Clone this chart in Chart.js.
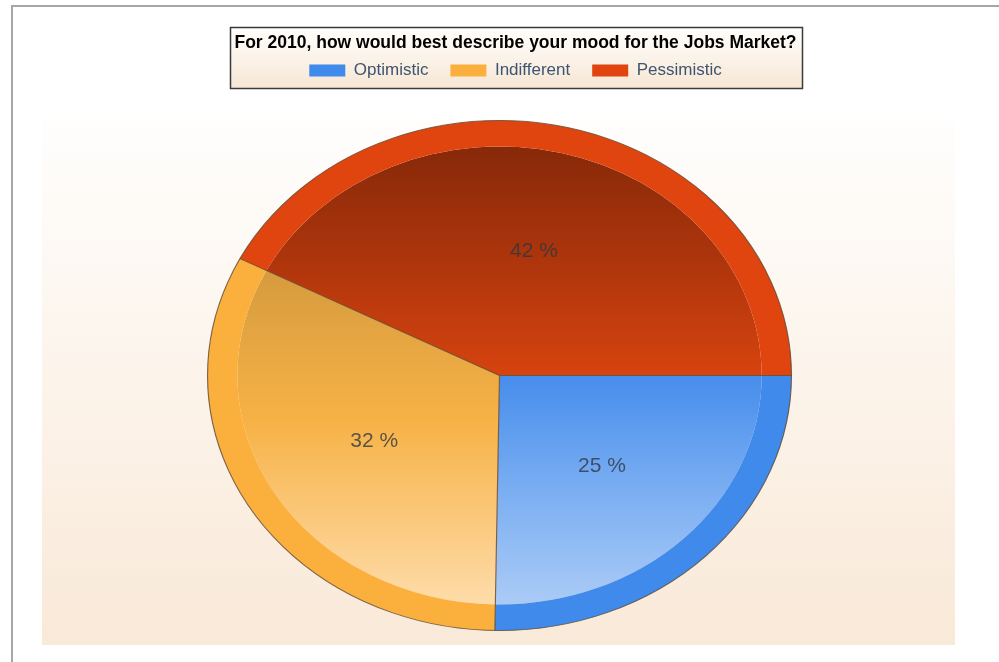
<!DOCTYPE html>
<html>
<head>
<meta charset="utf-8">
<script src="https://cdn.jsdelivr.net/npm/chart.js@4.4.1/dist/chart.umd.min.js"></script>
<style>
  html, body { margin: 0; padding: 0; background: #fff; overflow: hidden; }
  #frame { position: absolute; left: 11px; top: 5px; width: 1100px; height: 1000px;
           border-left: 2px solid #a6a6a6; border-top: 2px solid #a6a6a6; }
  #moodChart { position: absolute; left: 0; top: 0; }
</style>
</head>
<body>
<div id="frame"></div>
<canvas id="moodChart" width="999" height="662"></canvas>
<script>
// data
const chartTitle = "For 2010, how would best describe your mood for the Jobs Market?";
const moods = ["Optimistic", "Indifferent", "Pessimistic"];
const moodShares = [25, 32, 42];

// look
const rimColors = ["#3f8aea", "#fbb03e", "#e04510"];
const shadeStops = [
  [[0, "#468dec"], [0.5, "#7aaef2"], [1, "#abcbf6"]],
  [[0, "#d69b3e"], [0.45, "#f7b246"], [1, "#fedcaa"]],
  [[0, "#872909"], [0.5, "#ae350c"], [1, "#d6430f"]]
];
const FONT = '"Liberation Sans", Arial, sans-serif';
const PIE_RADIUS = 255;
const RIM_WIDTH = 26;
const STRETCH_X = 1.145; // pie is drawn as an ellipse
const SHIFT_X = -16;

// vertical extent (in radius units) of a slice, from the shares
function sliceExtent(i) {
  const total = moodShares.reduce((a, b) => a + b, 0);
  const before = moodShares.slice(0, i).reduce((a, b) => a + b, 0);
  const a0 = before / total * Math.PI * 2;
  const a1 = (before + moodShares[i]) / total * Math.PI * 2;
  const ys = [0, Math.sin(a0), Math.sin(a1)];
  if (a0 <= Math.PI / 2 && a1 >= Math.PI / 2) ys.push(1);
  if (a0 <= Math.PI * 1.5 && a1 >= Math.PI * 1.5) ys.push(-1);
  return [Math.min(...ys), Math.max(...ys)];
}

function sliceShade(context) {
  const chart = context.chart;
  const area = chart.chartArea;
  const i = context.dataIndex;
  if (!area) return rimColors[i];
  const cy = (area.top + area.bottom) / 2;
  const r = PIE_RADIUS - RIM_WIDTH;
  const [lo, hi] = sliceExtent(i);
  const g = chart.ctx.createLinearGradient(0, cy + lo * r, 0, cy + hi * r);
  shadeStops[i].forEach(s => g.addColorStop(s[0], s[1]));
  return g;
}

// background panel + title box
const backdrop = {
  id: "backdrop",
  beforeDraw(chart) {
    const ctx = chart.ctx;
    ctx.save();
    const bg = ctx.createLinearGradient(0, 120, 0, 645);
    bg.addColorStop(0, "#fffefd");
    bg.addColorStop(1, "#f9e9d8");
    ctx.fillStyle = bg;
    ctx.fillRect(42, 120, 913, 525);

    const t = chart.titleBlock;
    ctx.font = "bold 17.5px " + FONT;
    const w = ctx.measureText(chartTitle).width;
    const cx = (t.left + t.right) / 2;
    const left = Math.round(cx - w / 2 - 4) + 0.5;
    const right = Math.round(cx + w / 2 + 5) + 0.5;
    const top = Math.round(t.top) + 0.5;
    const bottom = Math.round(chart.legend.bottom) - 0.5;
    const tb = ctx.createLinearGradient(0, top, 0, bottom);
    tb.addColorStop(0, "#fffefc");
    tb.addColorStop(1, "#f7e7d5");
    ctx.fillStyle = tb;
    ctx.fillRect(left, top, right - left, bottom - top);
    ctx.strokeStyle = "#3a3a3a";
    ctx.lineWidth = 1.5;
    ctx.strokeRect(left, top, right - left, bottom - top);
    ctx.restore();
  }
};

// stretch the pie into an ellipse, then outline it and add the labels
const ellipsePie = {
  id: "ellipsePie",
  beforeDatasetsDraw(chart) {
    const c = chart.getDatasetMeta(0).data[0];
    const ctx = chart.ctx;
    ctx.save();
    ctx.translate(c.x + SHIFT_X, c.y);
    ctx.scale(STRETCH_X, 1);
    ctx.translate(-c.x, -c.y);
  },
  afterDatasetsDraw(chart) {
    const ctx = chart.ctx;
    const rim = chart.getDatasetMeta(0).data;
    const c = rim[0];
    ctx.strokeStyle = "rgba(95,70,45,0.8)";
    ctx.lineWidth = 1;
    rim.forEach(el => {
      ctx.beginPath();
      ctx.moveTo(el.x, el.y);
      ctx.lineTo(el.x + Math.cos(el.startAngle) * el.outerRadius,
                 el.y + Math.sin(el.startAngle) * el.outerRadius);
      ctx.stroke();
    });
    ctx.beginPath();
    ctx.arc(c.x, c.y, c.outerRadius, 0, Math.PI * 2);
    ctx.stroke();
    ctx.restore();

    ctx.save();
    ctx.font = "21px " + FONT;
    ctx.fillStyle = "rgba(45,55,65,0.78)";
    ctx.textAlign = "center";
    ctx.textBaseline = "middle";
    rim.forEach((el, i) => {
      const mid = (el.startAngle + el.endAngle) / 2;
      const r = el.outerRadius * 0.5;
      const x = el.x + SHIFT_X + Math.cos(mid) * r * STRETCH_X;
      const y = el.y + Math.sin(mid) * r;
      ctx.fillText(moodShares[i] + " %", x, y);
    });
    ctx.restore();
  }
};

new Chart(document.getElementById("moodChart"), {
  type: "pie",
  data: {
    labels: moods,
    datasets: [
      { data: moodShares, backgroundColor: rimColors, borderWidth: 0, weight: RIM_WIDTH },
      { data: moodShares, backgroundColor: sliceShade, borderWidth: 0, weight: PIE_RADIUS - RIM_WIDTH }
    ]
  },
  options: {
    responsive: false,
    animation: false,
    rotation: 90,
    radius: PIE_RADIUS,
    layout: { padding: { top: 27, left: 32, right: 0, bottom: -3 } },
    plugins: {
      title: {
        display: true,
        text: chartTitle,
        color: "#000",
        font: { family: FONT, size: 17.5, weight: "bold" },
        padding: { top: 5.5, bottom: -13.5 }
      },
      legend: {
        labels: {
          boxWidth: 36,
          boxHeight: 12,
          padding: 22,
          color: "#3d5570",
          font: { family: FONT, size: 17 }
        }
      },
      tooltip: { enabled: false }
    }
  },
  plugins: [backdrop, ellipsePie]
});
</script>
</body>
</html>
